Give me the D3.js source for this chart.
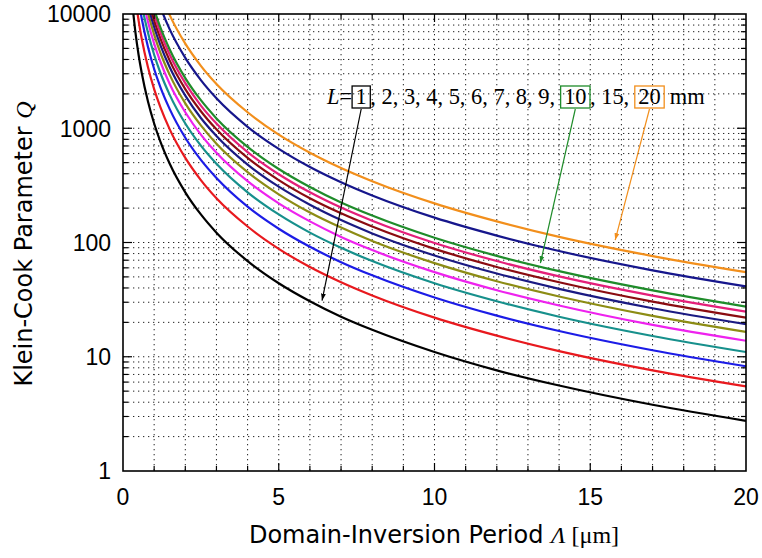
<!DOCTYPE html>
<meta charset="utf-8">
<style>
body { margin: 0; background: #fff; }
svg { display: block; }
.tick-label { font: 23px "Liberation Sans", Arial, sans-serif; fill: #000; }
.axis-title { font: 24px "DejaVu Sans", sans-serif; fill: #000; }
.serif { font-family: "Liberation Serif", "Times New Roman", serif; }
.grid line { stroke: #222; stroke-width: 1; stroke-dasharray: 1.3,3.7; }
.curve { fill: none; stroke-width: 2.2; }
.note { font: 22.4px "Liberation Serif", "Times New Roman", serif; fill: #000; }
</style>
<svg width="762" height="558"></svg>
<script src="https://d3js.org/d3.v7.min.js"></script>
<script>

// Domain-inversion period (um) where each curve was read
var periods = [0.3, 0.4, 0.5, 0.6, 0.8, 1, 1.2, 1.5, 2, 2.5, 3, 4, 5, 6, 7, 8, 10, 12, 14, 17, 20];

// crystal length L (mm) of each curve
var lengths = [1, 2, 3, 4, 5, 6, 7, 8, 9, 10, 15, 20];

// Klein-Cook parameter Q
var q1  = [12200, 6880, 4400, 3060, 1720, 1100, 764, 489, 275, 176, 122, 68.8, 44, 30.6, 22.4, 17.2, 11, 7.6, 5.6, 3.8, 2.75];
var q2  = [24400, 13750, 8800, 6110, 3440, 2200, 1530, 978, 550, 352, 244, 138, 88, 61, 44.9, 34.4, 22, 15.3, 11.2, 7.6, 5.5];
var q3  = [36700, 20600, 13200, 9170, 5160, 3300, 2290, 1470, 825, 528, 367, 206, 132, 91.7, 67.3, 51.6, 33, 22.9, 16.8, 11.4, 8.25];
var q4  = [48900, 27500, 17600, 12200, 6880, 4400, 3060, 1960, 1100, 704, 489, 275, 176, 122, 89.8, 68.8, 44, 30.6, 22.4, 15.2, 11];
var q5  = [61100, 34400, 22000, 15300, 8590, 5500, 3820, 2440, 1380, 880, 611, 344, 220, 153, 112, 85.9, 55, 38.2, 28.1, 19, 13.8];
var q6  = [73300, 41300, 26400, 18300, 10300, 6600, 4580, 2930, 1650, 1060, 733, 413, 264, 183, 135, 103, 66, 45.8, 33.7, 22.8, 16.5];
var q7  = [85600, 48100, 30800, 21400, 12000, 7700, 5350, 3420, 1930, 1230, 856, 481, 308, 214, 157, 120, 77, 53.5, 39.3, 26.6, 19.3];
var q8  = [97800, 55000, 35200, 24400, 13800, 8800, 6110, 3910, 2200, 1410, 978, 550, 352, 244, 180, 138, 88, 61.1, 44.9, 30.4, 22];
var q9  = [110000, 61900, 39600, 27500, 15500, 9900, 6880, 4400, 2480, 1580, 1100, 619, 396, 275, 202, 155, 99, 68.8, 50.5, 34.3, 24.8];
var q10 = [122000, 68800, 44000, 30600, 17200, 11000, 7640, 4890, 2750, 1760, 1220, 688, 440, 306, 224, 172, 110, 76.4, 56.1, 38.1, 27.5];
var q15 = [183000, 103000, 66000, 45800, 25800, 16500, 11500, 7330, 4130, 2640, 1830, 1030, 660, 458, 337, 258, 165, 115, 84.2, 57.1, 41.3];
var q20 = [244000, 138000, 88000, 61100, 34400, 22000, 15300, 9780, 5500, 3520, 2440, 1380, 880, 611, 449, 344, 220, 153, 112, 76.1, 55];

var colors = ["#000000", "#e8191e", "#1c1ce6", "#17908c", "#ee22ee", "#8c8c14",
              "#1a1a82", "#8a0c10", "#e41f79", "#1f8c2a", "#16168c", "#f28f1c"];

var xTicks = [0, 5, 10, 15, 20];
var yTicks = [1, 10, 100, 1000, 10000];

// labelled curves: which L, arrow tip (period, Q)
var callouts = [
  { L: 1,  tip: [6.39, 31] },
  { L: 10, tip: [13.4, 66] },
  { L: 20, tip: [15.8, 105] }
];

var svg = d3.select("svg"),
    margin = { top: 14, right: 16, bottom: 87, left: 123 },
    width = +svg.attr("width") - margin.left - margin.right,
    height = +svg.attr("height") - margin.top - margin.bottom;

var g = svg.append("g").attr("transform", "translate(" + margin.left + "," + margin.top + ")");

var x = d3.scaleLinear().domain([0, 20]).range([0, width]),
    y = d3.scaleLog().domain([1, 10000]).range([height, 0]);

var minorY = [];
[1, 10, 100, 1000].forEach(function(d) {
  for (var k = 2; k <= 9; k++) minorY.push(d * k);
});

// dotted grid
var grid = g.append("g").attr("class", "grid");
grid.selectAll(".gx").data(d3.range(1, 20)).enter().append("line")
    .attr("x1", function(d) { return x(d); }).attr("x2", function(d) { return x(d); })
    .attr("y1", 0).attr("y2", height);
grid.selectAll(".gy").data(minorY.concat([10, 100, 1000])).enter().append("line")
    .attr("x1", 0).attr("x2", width)
    .attr("y1", function(d) { return y(d); }).attr("y2", function(d) { return y(d); });

// curves
var series = [q1, q2, q3, q4, q5, q6, q7, q8, q9, q10, q15, q20].map(function(q, i) {
  return { L: lengths[i], color: colors[i], values: q.map(function(v, j) { return [periods[j], v]; }) };
});

svg.append("clipPath").attr("id", "clip")
  .append("rect").attr("width", width).attr("height", height);

var line = d3.line()
    .x(function(d) { return x(d[0]); })
    .y(function(d) { return y(d[1]); })
    .curve(d3.curveMonotoneX);

g.append("g").attr("clip-path", "url(#clip)")
  .selectAll("path").data(series).enter().append("path")
    .attr("class", "curve")
    .attr("stroke", function(d) { return d.color; })
    .attr("d", function(d) { return line(d.values); });

// ticks (inward, all four sides)
var ticks = g.append("g").attr("stroke", "#000").attr("stroke-width", 1.2);
d3.range(1, 20).forEach(function(d) {
  var len = d % 5 === 0 ? 8 : 5;
  ticks.append("line").attr("x1", x(d)).attr("x2", x(d)).attr("y1", height).attr("y2", height - len);
  ticks.append("line").attr("x1", x(d)).attr("x2", x(d)).attr("y1", 0).attr("y2", len);
});
minorY.concat([10, 100, 1000]).forEach(function(d) {
  var len = yTicks.indexOf(d) >= 0 ? 9 : 5;
  ticks.append("line").attr("x1", 0).attr("x2", len).attr("y1", y(d)).attr("y2", y(d));
  ticks.append("line").attr("x1", width).attr("x2", width - len).attr("y1", y(d)).attr("y2", y(d));
});

g.append("rect").attr("width", width).attr("height", height)
  .attr("fill", "none").attr("stroke", "#000").attr("stroke-width", 1.6);

// tick labels
g.selectAll(".xl").data(xTicks).enter().append("text")
    .attr("class", "tick-label")
    .attr("x", function(d) { return x(d); })
    .attr("y", height + 34)
    .attr("text-anchor", "middle")
    .text(function(d) { return d; });
g.selectAll(".yl").data(yTicks).enter().append("text")
    .attr("class", "tick-label")
    .attr("x", -12)
    .attr("y", function(d) { return y(d); })
    .attr("dy", "0.36em")
    .attr("text-anchor", "end")
    .text(function(d) { return d; });

// axis titles
var xt = svg.append("text").attr("class", "axis-title")
    .attr("x", 434).attr("y", 543).attr("text-anchor", "middle");
xt.append("tspan").text("Domain-Inversion Period ");
xt.append("tspan").attr("class", "serif").style("font-style", "italic").text("Λ");
xt.append("tspan").attr("class", "serif").text(" [μm]");

var yt = svg.append("text").attr("class", "axis-title")
    .attr("transform", "translate(32,244) rotate(-90)").attr("text-anchor", "middle");
yt.append("tspan").text("Klein-Cook Parameter ");
yt.append("tspan").attr("class", "serif").style("font-style", "italic").text("Q");

// legend text with boxed lengths
var pieces = [
  { t: "L", italic: true },
  { t: "=" },
  { t: "1", L: 1 },
  { t: ", 2, 3, 4, 5, 6, 7, 8, 9, " },
  { t: "10", L: 10 },
  { t: ", 15, " },
  { t: "20", L: 20 },
  { t: " mm" }
];
var note = svg.append("g"), cx = 327, baseY = 104, pad = 3.5, boxes = {};
pieces.forEach(function(p) {
  if (p.L) cx += pad;
  var t = note.append("text").attr("class", "note")
      .attr("x", cx).attr("y", baseY)
      .style("font-style", p.italic ? "italic" : null)
      .attr("xml:space", "preserve")
      .style("white-space", "pre")
      .text(p.t);
  var w = t.node().getComputedTextLength();
  if (p.L) {
    var col = colors[lengths.indexOf(p.L)];
    note.append("rect")
        .attr("x", cx - pad).attr("y", baseY - 18)
        .attr("width", w + 2 * pad).attr("height", 22)
        .attr("fill", "none").attr("stroke", col).attr("stroke-width", 1.3);
    boxes[p.L] = { cx: cx + w / 2, bottom: baseY + 4 };
    cx += pad;
  }
  cx += w;
});

// arrows
var defs = svg.append("defs");
callouts.forEach(function(c) {
  var col = colors[lengths.indexOf(c.L)];
  defs.append("marker").attr("id", "arrow" + c.L)
      .attr("viewBox", "0 0 10 10").attr("refX", 10).attr("refY", 5)
      .attr("markerWidth", 7).attr("markerHeight", 7)
      .attr("markerUnits", "userSpaceOnUse")
      .attr("orient", "auto")
    .append("path").attr("d", "M0,1.5L10,5L0,8.5z").attr("fill", col);
  var b = boxes[c.L];
  svg.append("line")
      .attr("x1", b.cx).attr("y1", b.bottom + 1)
      .attr("x2", margin.left + x(c.tip[0])).attr("y2", margin.top + y(c.tip[1]))
      .attr("stroke", col).attr("stroke-width", 1.2)
      .attr("marker-end", "url(#arrow" + c.L + ")");
});

</script>
